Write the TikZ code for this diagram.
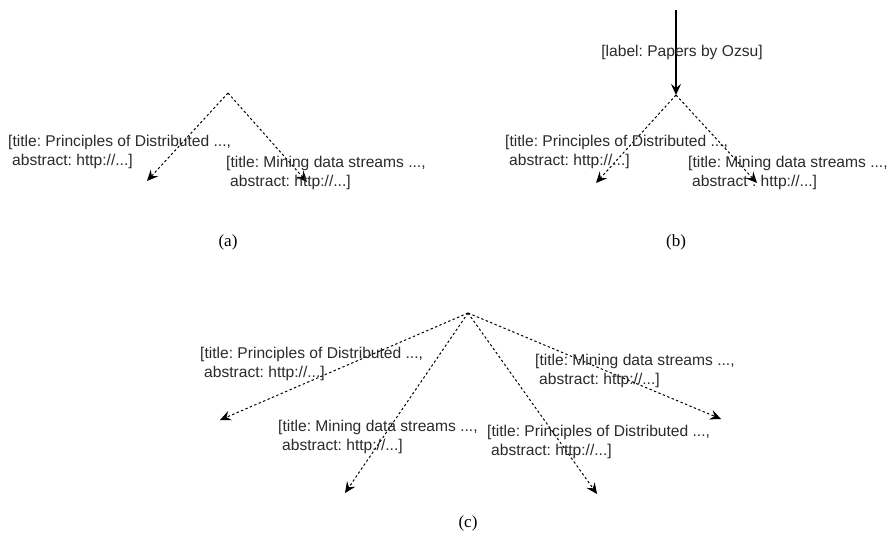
\documentclass[tikz,border=0pt]{standalone}
\usepackage{fontspec}
\setmainfont{Liberation Sans}
\newfontfamily\capfont{Liberation Serif}
\usetikzlibrary{arrows.meta}
\definecolor{txt}{HTML}{2A2A2A}
\frenchspacing
\begin{document}
\begin{tikzpicture}[x=1pt,y=-1pt,
  lbl/.style={anchor=west,align=left,inner sep=0pt,text=txt,font=\fontsize{15.6}{18.5}\selectfont},
  captext/.style={inner sep=0pt,font=\capfont\fontsize{17}{19}\selectfont},
  dlink/.style={draw,line width=1pt,dash pattern=on 2.4pt off 2.4pt,-{Stealth[length=11pt,width=10pt,inset=4pt]}},
  slink/.style={draw,line width=1.1pt,-{Stealth[length=11pt,width=10pt,inset=4pt]}}]
\useasboundingbox (0,0) rectangle (893,544);
% (a)
\coordinate (a0) at (228,93);
\coordinate (a1) at (147,181);
\coordinate (a2) at (307,182);
\draw[dlink] (a0) -- (a1);
\draw[dlink] (a0) -- (a2);
\node[lbl] (al1) at (8,152) {[title: Principles of Distributed ...,\\\hspace*{4pt}abstract: http://...]};
\node[lbl] (al2) at (226,173) {[title: Mining data streams ...,\\\hspace*{4pt}abstract: http://...]};
\node[captext] (ca) at (228,242) {(a)};
% (b)
\coordinate (b00) at (676,10);
\coordinate (b0) at (676,95);
\coordinate (b1) at (596,183);
\coordinate (b2) at (757,183);
\draw[slink] (b00) -- (b0);
\draw[dlink] (b0) -- (b1);
\draw[dlink] (b0) -- (b2);
\node[lbl,anchor=center] (blab) at (682,52) {[label: Papers by Ozsu]};
\node[lbl] (bl1) at (505,152) {[title: Principles of Distributed ...,\\\hspace*{4pt}abstract: http://...]};
\node[lbl] (bl2) at (688,173) {[title: Mining data streams ...,\\\hspace*{4pt}abstract : http://...]};
\node[captext] (cb) at (676,242) {(b)};
% (c)
\coordinate (c0) at (468,313);
\coordinate (c1) at (220,420);
\coordinate (c2) at (345,493);
\coordinate (c3) at (597,494);
\coordinate (c4) at (721,419);
\draw[dlink] (c0) -- (c1);
\draw[dlink] (c0) -- (c2);
\draw[dlink] (c0) -- (c3);
\draw[dlink] (c0) -- (c4);
\node[lbl] (cl1) at (200,364) {[title: Principles of Distributed ...,\\\hspace*{4pt}abstract: http://...]};
\node[lbl] (cl2) at (278,437) {[title: Mining data streams ...,\\\hspace*{4pt}abstract: http://...]};
\node[lbl] (cl3) at (487,442) {[title: Principles of Distributed ...,\\\hspace*{4pt}abstract: http://...]};
\node[lbl] (cl4) at (535,371) {[title: Mining data streams ...,\\\hspace*{4pt}abstract: http://...]};
\node[captext] (cc) at (468,523) {(c)};
\end{tikzpicture}
\end{document}
